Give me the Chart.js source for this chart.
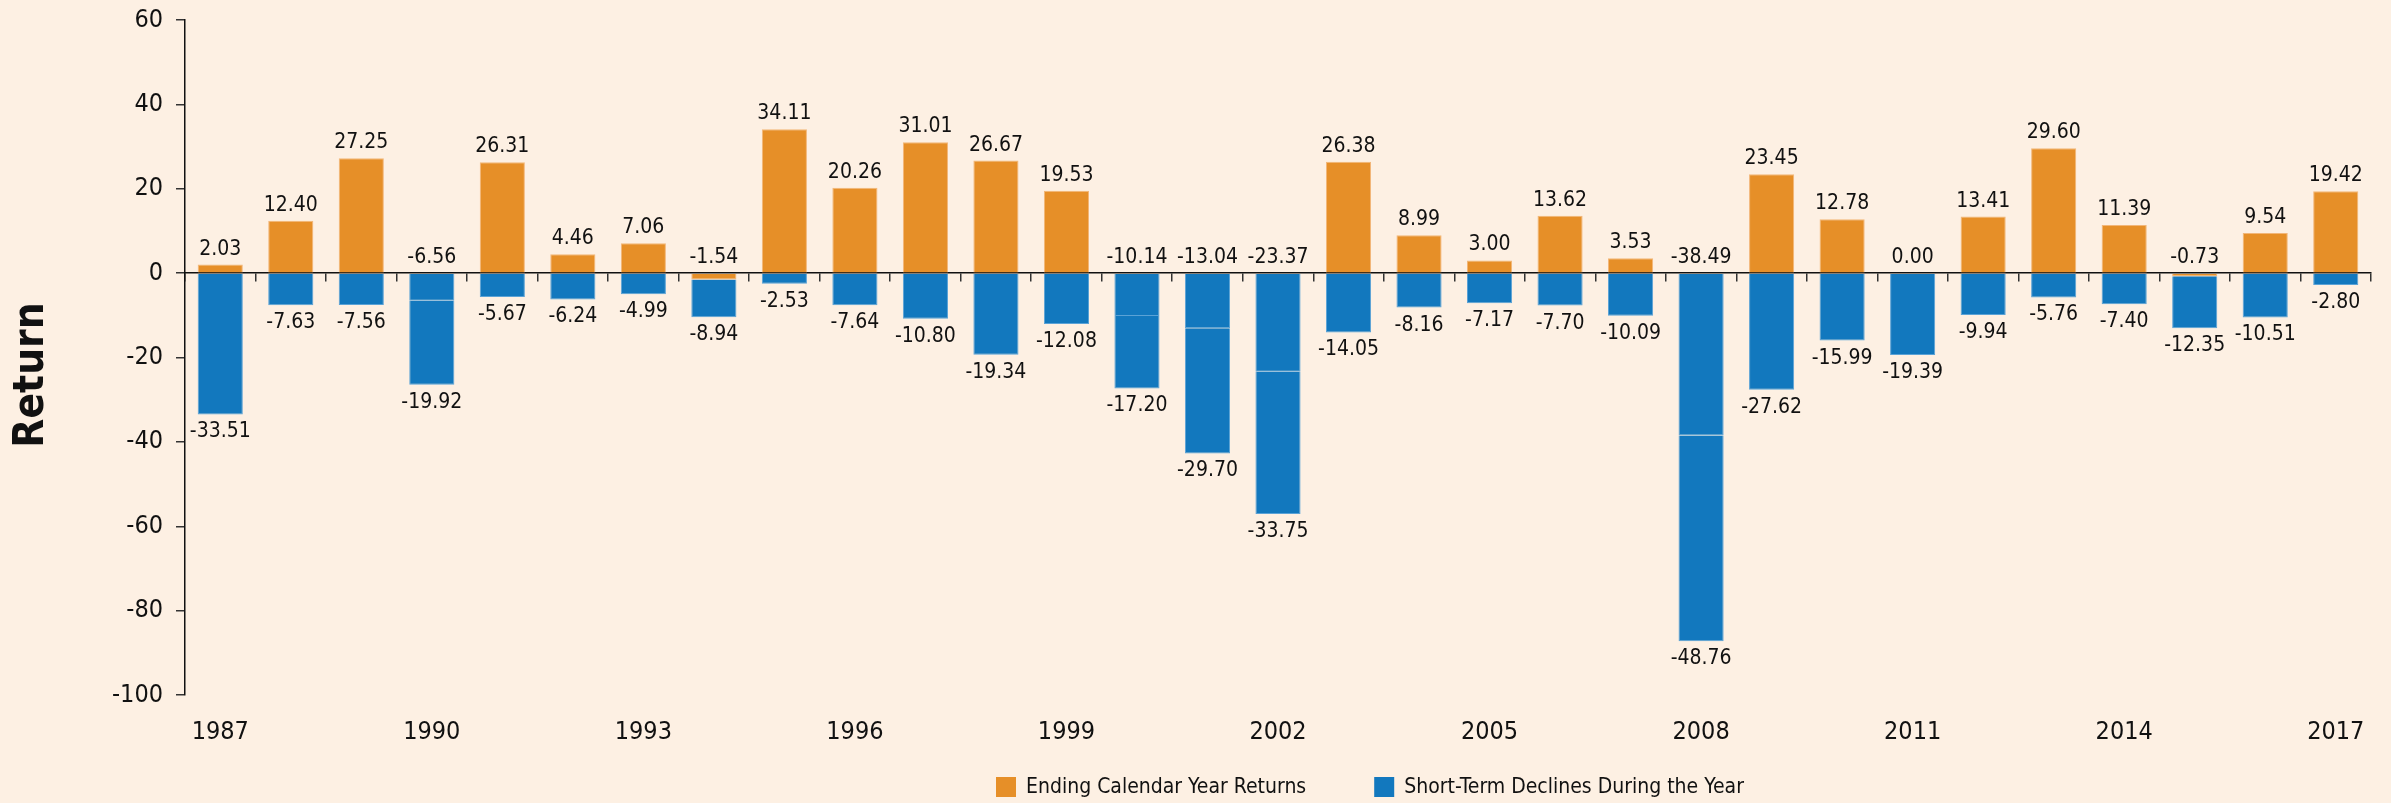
<!DOCTYPE html>
<html>
<head>
<meta charset="utf-8">
<script src="https://cdn.jsdelivr.net/npm/chart.js@4.4.0/dist/chart.umd.min.js"></script>
<style>
    html, body { margin: 0; padding: 0; background: #fdf0e3; }
    canvas { display: block; }
</style>
</head>
<body>
<canvas id="returnsChart" width="2391" height="803"></canvas>
<script>
// Data
const years = ['1987', '1988', '1989', '1990', '1991', '1992', '1993', '1994', '1995', '1996',
    '1997', '1998', '1999', '2000', '2001', '2002', '2003', '2004', '2005', '2006',
    '2007', '2008', '2009', '2010', '2011', '2012', '2013', '2014', '2015', '2016', '2017'];
const shownYears = ['1987', '1990', '1993', '1996', '1999', '2002', '2005', '2008', '2011', '2014', '2017'];
const calendarReturns = [2.03, 12.40, 27.25, -6.56, 26.31, 4.46, 7.06, -1.54, 34.11, 20.26,
    31.01, 26.67, 19.53, -10.14, -13.04, -23.37, 26.38, 8.99, 3.00, 13.62,
    3.53, -38.49, 23.45, 12.78, 0.00, 13.41, 29.60, 11.39, -0.73, 9.54, 19.42];
const shortTermDeclines = [-33.51, -7.63, -7.56, -19.92, -5.67, -6.24, -4.99, -8.94, -2.53, -7.64,
    -10.80, -19.34, -12.08, -17.20, -29.70, -33.75, -14.05, -8.16, -7.17, -7.70,
    -10.09, -48.76, -27.62, -15.99, -19.39, -9.94, -5.76, -7.40, -12.35, -10.51, -2.80];
const yTickValues = [60, 40, 20, 0, -20, -40, -60, -80, -100];
const seriesNames = ['Ending Calendar Year Returns', 'Short-Term Declines During the Year'];

const ORANGE = '#e68f28';
const ORANGE_EDGE = '#f2b678';
const BLUE = '#1278be';
const BLUE_EDGE = '#5aa2d6';
const FONT = '"DejaVu Sans Condensed", "DejaVu Sans", sans-serif';

// Bigger negative calendar returns are painted in the decline colour, as in the source
function returnColor(ctx, base, alt) {
    return ctx.raw < -5 ? alt : base;
}

// Value labels, axis title and legend
const decorPlugin = {
    id: 'decor',
    afterDatasetsDraw(chart) {
        const ctx = chart.ctx;
        const zeroY = chart.scales.y.getPixelForValue(0);
        ctx.save();
        ctx.fillStyle = '#111';
        ctx.textAlign = 'center';
        ctx.textBaseline = 'alphabetic';
        ctx.font = '21px ' + FONT;

        chart.getDatasetMeta(0).data.forEach((bar, i) => {
            const v = calendarReturns[i];
            const top = v > 0 ? bar.y : zeroY;
            ctx.fillText(v.toFixed(2), bar.x, top - 10);
        });
        chart.getDatasetMeta(1).data.forEach((bar, i) => {
            ctx.fillText(shortTermDeclines[i].toFixed(2), bar.x, bar.y + 23);
        });

        // Y axis title
        ctx.save();
        ctx.translate(32, 375);
        ctx.rotate(-Math.PI / 2);
        ctx.font = 'bold 42px ' + FONT;
        ctx.textBaseline = 'middle';
        ctx.fillText('Return', 0, 0);
        ctx.restore();

        // Legend
        ctx.font = '21px ' + FONT;
        ctx.textAlign = 'left';
        ctx.textBaseline = 'middle';
        const colors = [ORANGE, BLUE];
        let x = 996;
        seriesNames.forEach((name, i) => {
            ctx.fillStyle = colors[i];
            ctx.fillRect(x, 777, 20, 20);
            ctx.fillStyle = '#111';
            ctx.fillText(name, x + 30, 788);
            x += 30 + ctx.measureText(name).width + 68;
        });
        ctx.restore();
    }
};

const chartCtx = document.getElementById('returnsChart').getContext('2d');
const returnsChart = new Chart(chartCtx, {
    type: 'bar',
    data: {
        labels: years,
        datasets: [{
            label: seriesNames[0],
            data: calendarReturns,
            backgroundColor: ctx => returnColor(ctx, ORANGE, BLUE),
            borderColor: ctx => returnColor(ctx, ORANGE_EDGE, BLUE_EDGE),
            borderWidth: 1,
            categoryPercentage: 1,
            barPercentage: 0.64
        }, {
            label: seriesNames[1],
            data: shortTermDeclines,
            backgroundColor: BLUE,
            borderColor: BLUE_EDGE,
            borderWidth: 1,
            categoryPercentage: 1,
            barPercentage: 0.64
        }]
    },
    options: {
        responsive: false,
        animation: false,
        layout: {
            padding: { top: 20, right: 20, bottom: 0, left: 0 }
        },
        plugins: {
            legend: { display: false },
            tooltip: { enabled: false }
        },
        scales: {
            x: {
                stacked: true,
                offset: true,
                grid: { display: false, drawTicks: false, offset: true },
                border: { display: false },
                ticks: {
                    autoSkip: false,
                    maxRotation: 0,
                    padding: 22,
                    color: '#111',
                    font: { family: FONT, size: 25 },
                    callback: function (value) {
                        const label = this.getLabelForValue(value);
                        return shownYears.includes(label) ? label : '';
                    }
                },
                afterFit: scale => { scale.height = 108; }
            },
            xZero: {
                type: 'category',
                position: { y: 0 },
                offset: true,
                grid: {
                    offset: true,
                    drawOnChartArea: false,
                    tickLength: 8,
                    color: '#333',
                    lineWidth: 1.5
                },
                border: { color: '#111', width: 1.5 },
                ticks: { display: false }
            },
            y: {
                stacked: true,
                min: -100,
                max: 60,
                afterBuildTicks: scale => {
                    scale.ticks = yTickValues.map(v => ({ value: v }));
                },
                grid: {
                    drawOnChartArea: false,
                    tickLength: 9,
                    color: '#333',
                    lineWidth: 1.5
                },
                border: { color: '#111', width: 1.5 },
                ticks: {
                    padding: 13,
                    color: '#111',
                    font: { family: FONT, size: 25 }
                },
                afterFit: scale => {
                    scale.width = 185;
                    scale.paddingTop = 0;
                    scale.paddingBottom = 0;
                }
            }
        }
    },
    plugins: [decorPlugin]
});
</script>
</body>
</html>
